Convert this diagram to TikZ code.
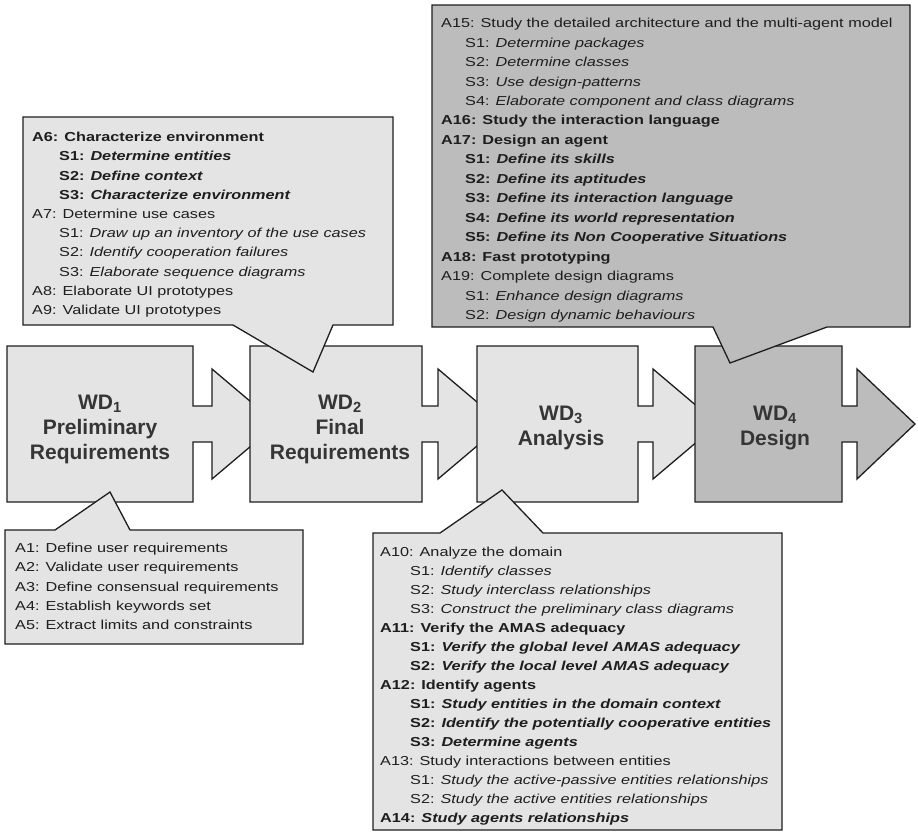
\documentclass[tikz,border=0pt]{standalone}
\usepackage{fontspec}
\setmainfont{Liberation Sans}
\newfontfamily\cf{Liberation Sans}[FakeStretch=1.25]
\definecolor{lightfill}{HTML}{E4E4E4}
\definecolor{darkfill}{HTML}{BCBCBC}
\definecolor{edge}{HTML}{1E1E1E}
\definecolor{ink}{HTML}{1E1E1E}
\definecolor{wdink}{HTML}{353535}
\newlength\sind
\newcommand\sitem[2]{\hspace*{\sind}#1: \textit{#2}}
\begin{document}
\begin{tikzpicture}[x=1pt,y=-1pt,
  wdbox/.style={draw=edge, line width=1.3pt, line join=miter},
  bubble/.style={draw=edge, line width=1.3pt, line join=miter},
  wdlabel/.style={inner sep=0pt, align=center, text=wdink, font=\fontsize{21}{25}\selectfont\bfseries},
  bubtext/.style={inner sep=0pt, anchor=north west, align=left, text=ink}]
\fill[white] (0,0) rectangle (918,833);
\useasboundingbox (0,0) rectangle (918,833);

% work definitions (arrow shapes), drawn left to right
\draw[wdbox, fill=lightfill] (7,346) -- (193,346) -- (193,406) -- (212,406) -- (212,369) -- (277,424) -- (212,479) -- (212,442) -- (193,442) -- (193,502) -- (7,502) -- cycle;
\draw[wdbox, fill=lightfill] (250,346) -- (422,346) -- (422,406) -- (438,406) -- (438,369) -- (503,424) -- (438,479) -- (438,442) -- (422,442) -- (422,502) -- (250,502) -- cycle;
\draw[wdbox, fill=lightfill] (477,346) -- (638,346) -- (638,406) -- (653,406) -- (653,369) -- (718,424) -- (653,479) -- (653,442) -- (638,442) -- (638,502) -- (477,502) -- cycle;
\draw[wdbox, fill=darkfill] (695,346) -- (842,346) -- (842,406) -- (857,406) -- (857,369) -- (915,424) -- (857,479) -- (857,442) -- (842,442) -- (842,502) -- (695,502) -- cycle;

\node[wdlabel] (wd1) at (100,429.5) {\strut WD\textsubscript{1}\\Preliminary\\Requirements\strut};
\node[wdlabel] (wd2) at (340,429.5) {\strut WD\textsubscript{2}\\Final\\Requirements\strut};
\node[wdlabel] (wd3) at (561,427.5) {\strut WD\textsubscript{3}\\Analysis\strut};
\node[wdlabel] (wd4) at (775,427.5) {\strut WD\textsubscript{4}\\Design\strut};

% callouts
\draw[bubble, fill=lightfill] (5,530) -- (55,530) -- (110,492) -- (130,530) -- (303,530) -- (303,644) -- (5,644) -- cycle;
\draw[bubble, fill=lightfill] (23,117) -- (393,117) -- (393,325) -- (333,325) -- (313,372) -- (233,325) -- (23,325) -- cycle;
\draw[bubble, fill=lightfill] (373,533) -- (440,533) -- (502,490) -- (543,533) -- (782,533) -- (782,830) -- (373,830) -- cycle;
\draw[bubble, fill=darkfill] (432,5) -- (910,5) -- (910,327) -- (827,327) -- (730,363) -- (713,327) -- (432,327) -- cycle;

\node[bubtext, font={\cf\fontsize{13}{19.25}\selectfont}] (acts1) at (15,539) {\strut A1: Define user requirements\\
A2: Validate user requirements\\
A3: Define consensual requirements\\
A4: Establish keywords set\\
A5: Extract limits and constraints};

\node[bubtext, font={\cf\fontsize{13}{19.2}\selectfont\setlength\sind{27pt}}] (acts2) at (32,128.1) {\strut\textbf{A6: Characterize environment}\\
\textbf{\sitem{S1}{Determine entities}}\\
\textbf{\sitem{S2}{Define context}}\\
\textbf{\sitem{S3}{Characterize environment}}\\
A7: Determine use cases\\
\sitem{S1}{Draw up an inventory of the use cases}\\
\sitem{S2}{Identify cooperation failures}\\
\sitem{S3}{Elaborate sequence diagrams}\\
A8: Elaborate UI prototypes\\
A9: Validate UI prototypes};

\node[bubtext, font={\cf\fontsize{13}{19.0}\selectfont\setlength\sind{30pt}}] (acts3) at (380,543.2) {\strut A10: Analyze the domain\\
\sitem{S1}{Identify classes}\\
\sitem{S2}{Study interclass relationships}\\
\sitem{S3}{Construct the preliminary class diagrams}\\
\textbf{A11: Verify the AMAS adequacy}\\
\textbf{\sitem{S1}{Verify the global level AMAS adequacy}}\\
\textbf{\sitem{S2}{Verify the local level AMAS adequacy}}\\
\textbf{A12: Identify agents}\\
\textbf{\sitem{S1}{Study entities in the domain context}}\\
\textbf{\sitem{S2}{Identify the potentially cooperative entities}}\\
\textbf{\sitem{S3}{Determine agents}}\\
A13: Study interactions between entities\\
\sitem{S1}{Study the active-passive entities relationships}\\
\sitem{S2}{Study the active entities relationships}\\
\textbf{A14: \textit{Study agents relationships}}};

\node[bubtext, font={\cf\fontsize{13}{19.45}\selectfont\setlength\sind{24pt}}] (acts4) at (441,13.9) {\strut A15: Study the detailed architecture and the multi-agent model\\
\sitem{S1}{Determine packages}\\
\sitem{S2}{Determine classes}\\
\sitem{S3}{Use design-patterns}\\
\sitem{S4}{Elaborate component and class diagrams}\\
\textbf{A16: Study the interaction language}\\
\textbf{A17: Design an agent}\\
\textbf{\sitem{S1}{Define its skills}}\\
\textbf{\sitem{S2}{Define its aptitudes}}\\
\textbf{\sitem{S3}{Define its interaction language}}\\
\textbf{\sitem{S4}{Define its world representation}}\\
\textbf{\sitem{S5}{Define its Non Cooperative Situations}}\\
\textbf{A18: Fast prototyping}\\
A19: Complete design diagrams\\
\sitem{S1}{Enhance design diagrams}\\
\sitem{S2}{Design dynamic behaviours}};
\end{tikzpicture}
\end{document}
